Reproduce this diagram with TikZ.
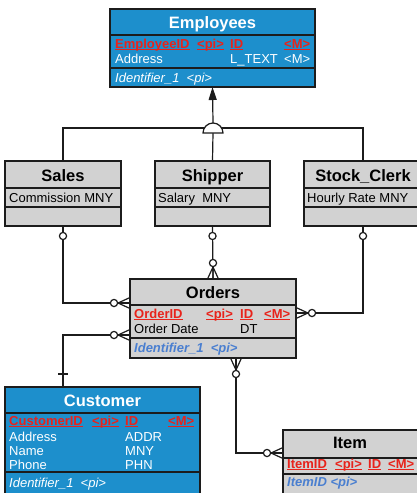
\documentclass[tikz,border=0pt]{standalone}
\usepackage{fontspec}
\setmainfont{Liberation Sans}
\usetikzlibrary{arrows.meta,calc}
\definecolor{eblue}{HTML}{1D8FCC}
\definecolor{egray}{HTML}{D2D2D2}
\definecolor{kred}{HTML}{E8231B}
\definecolor{iblue}{HTML}{4A7FD0}
\definecolor{edgec}{HTML}{1C1C1C}
\newcommand\ulk[1]{\setbox0=\hbox{#1}\rlap{\rule[-2pt]{\wd0}{1pt}}\box0}
\newcommand\crowft[2]{\begin{scope}[shift={(#1)},rotate=#2]
 \draw[conn] (0,-5.5) -- (12,0) -- (0,5.5) (0,0) -- (12,0);
 \draw[conn,fill=white] (16,0) circle (3.6);
\end{scope}}
\newcommand\ebox[6]{\node[#6, minimum width={(#4-#2)*1pt}, minimum height={(#5-#3)*1pt}] (#1) at ({(#2+#4)/2},{(#3+#5)/2}) {};}
\tikzset{
 ent/.style={draw=edgec, line width=1.3pt, inner sep=0pt, outer sep=0pt},
 bluebox/.style={ent, fill=eblue},
 graybox/.style={ent, fill=egray},
 sepl/.style={draw=edgec, line width=1.3pt},
 ttl/.style={anchor=base, inner sep=0pt, font=\fontsize{16.5}{16.5}\selectfont\bfseries},
 att/.style={anchor=base west, inner sep=0pt, font=\fontsize{13}{13}\selectfont},
 key/.style={att, text=kred, font=\fontsize{13}{13}\selectfont\bfseries},
 idw/.style={att, text=white, font=\fontsize{13}{13}\selectfont\itshape},
 idb/.style={att, text=iblue, font=\fontsize{13}{13}\selectfont\bfseries\itshape},
 conn/.style={draw=edgec, line width=1.2pt},
}
\begin{document}
\begin{tikzpicture}[x=1pt,y=-1pt]
\useasboundingbox (0,0) rectangle (417,493);
% ---------- entity boxes
\ebox{emp}{110}{9}{315}{87}{bluebox}
\draw[sepl] (110,35) -- (315,35) (110,68) -- (315,68);
\ebox{sales}{5}{161}{121}{226}{graybox}
\draw[sepl] (5,188) -- (121,188) (5,207) -- (121,207);
\ebox{shipper}{155}{161}{270}{226}{graybox}
\draw[sepl] (155,188) -- (270,188) (155,207) -- (270,207);
\ebox{stock}{304}{161}{422}{226}{graybox}
\draw[sepl] (304,188) -- (422,188) (304,207) -- (422,207);
\ebox{orders}{130}{279}{296}{358}{graybox}
\draw[sepl] (130,305) -- (296,305) (130,338) -- (296,338);
\ebox{customer}{5}{387}{200}{505}{bluebox}
\draw[sepl] (5,413) -- (200,413) (5,472) -- (200,472);
\ebox{item}{283}{430}{420}{505}{graybox}
\draw[sepl] (283,458) -- (420,458) (283,474) -- (420,474);
% ---------- texts
\node[ttl, text=white] (tEmp) at (212.5,28) {Employees};
\node[key] (tEmp1) at (115,48) {\ulk{EmployeeID}};
\node[key] (tEmp2) at (197,48) {\ulk{<pi>}};
\node[key] (tEmp3) at (230,48) {\ulk{ID}};
\node[key] (tEmp4) at (284,48) {\ulk{<M>}};
\node[att, text=white] (tEmp5) at (115,63) {Address};
\node[att, text=white] (tEmp6) at (230,63) {L\_TEXT};
\node[att, text=white] (tEmp7) at (284,63) {<M>};
\node[idw] (tEmp8) at (115,82) {Identifier\_1 \ <pi>};
\node[ttl] (tSal) at (63,181) {Sales};
\node[att] (tSal1) at (9,202) {Commission MNY};
\node[ttl] (tShp) at (212.5,181) {Shipper};
\node[att] (tShp1) at (158,202) {Salary \ MNY};
\node[ttl] (tStk) at (363,181) {Stock\_Clerk};
\node[att] (tStk1) at (307,202) {Hourly Rate MNY};
\node[ttl] (tOrd) at (213,298) {Orders};
\node[key] (tOrd1) at (134,318) {\ulk{OrderID}};
\node[key] (tOrd2) at (206,318) {\ulk{<pi>}};
\node[key] (tOrd3) at (240,318) {\ulk{ID}};
\node[key] (tOrd4) at (264,318) {\ulk{<M>}};
\node[att] (tOrd5) at (134,333) {Order Date};
\node[att] (tOrd6) at (240,333) {DT};
\node[idb] (tOrd7) at (134,352) {Identifier\_1 \ <pi>};
\node[ttl, text=white] (tCus) at (102.5,406) {Customer};
\node[key] (tCus1) at (9,425) {\ulk{CustomerID}};
\node[key] (tCus2) at (92,425) {\ulk{<pi>}};
\node[key] (tCus3) at (125,425) {\ulk{ID}};
\node[key] (tCus4) at (168,425) {\ulk{<M>}};
\node[att, text=white] (tCus5) at (9,441) {Address};
\node[att, text=white] (tCus6) at (125,441) {ADDR};
\node[att, text=white] (tCus7) at (9,455) {Name};
\node[att, text=white] (tCus8) at (125,455) {MNY};
\node[att, text=white] (tCus9) at (9,469) {Phone};
\node[att, text=white] (tCus10) at (125,469) {PHN};
\node[idw] (tCus11) at (9,487) {Identifier\_1 \ <pi>};
\node[ttl] (tItm) at (350,448) {Item};
\node[key] (tItm1) at (287,468) {\ulk{ItemID}};
\node[key] (tItm2) at (335,468) {\ulk{<pi>}};
\node[key] (tItm3) at (368,468) {\ulk{ID}};
\node[key] (tItm4) at (388,468) {\ulk{<M>}};
\node[idb] (tItm5) at (287,486) {ItemID <pi>};
% ---------- inheritance
\coordinate (hub) at (213,128);
\coordinate (inhbase) at (213,133);
\coordinate (inhtop) at (213,123);
\draw[conn] (sales.north) |- (hub) -| (stock.north);
\draw[conn] (shipper.north) -- (inhbase);
\draw[conn, fill=white] (203,133) arc[start angle=180, end angle=360, radius=10] -- cycle;
\draw[conn, -{Triangle[length=13pt,width=8pt]}] (inhtop) -- (emp.south);
% ---------- relationships
\coordinate (oL1) at ($(orders.north west)+(0,24)$);
\coordinate (oL2) at ($(orders.north west)+(0,56)$);
\coordinate (oR1) at ($(orders.north east)+(0,34)$);
\coordinate (oB) at ($(orders.south west)+(106,0)$);
\coordinate (cu1) at ($(customer.north west)+(58,0)$);
\coordinate (iL) at ($(item.north west)+(0,23)$);
\draw[conn] (sales.south) |- (oL1);
\draw[conn] (shipper.south) -- (orders.north);
\draw[conn] (stock.south) |- (oR1);
\draw[conn] (cu1) |- (oL2);
\draw[conn] (oB) |- (iL);
\draw[conn, fill=white] ($(sales.south)+(0,10)$) circle (3.6);
\draw[conn, fill=white] ($(shipper.south)+(0,10)$) circle (3.6);
\draw[conn, fill=white] ($(stock.south)+(0,10)$) circle (3.6);
\crowft{oL1}{180}
\crowft{oL2}{180}
\crowft{oR1}{0}
\crowft{orders.north}{90}
\crowft{oB}{270}
\crowft{iL}{180}
\draw[conn] ($(cu1)+(-5,-13)$) -- ($(cu1)+(5,-13)$);
\end{tikzpicture}
\end{document}
